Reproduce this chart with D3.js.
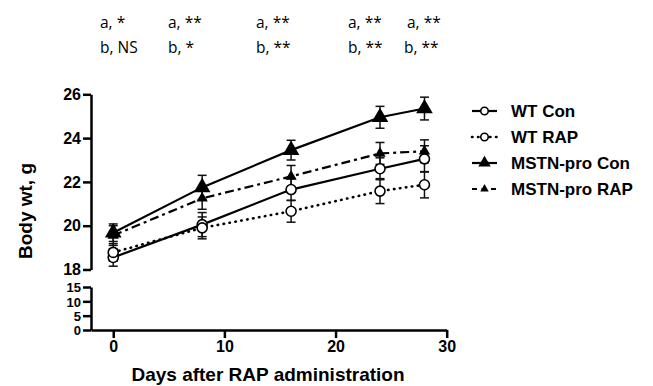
<!DOCTYPE html>
<html><head><meta charset="utf-8">
<script src="https://cdn.jsdelivr.net/npm/d3@7"></script>
<style>body{margin:0;background:#fff}svg{display:block}</style>
</head><body>
<svg id="c" width="653" height="386"></svg>
<script>
const days = [0, 8, 16, 24, 28];
const seriesNames = ["WT Con", "WT RAP", "MSTN-pro Con", "MSTN-pro RAP"];
const wtCon = [18.55, 20.05, 21.65, 22.6, 23.05];
const wtConErr = [0.4, 0.55, 0.5, 0.5, 0.6];
const wtRap = [18.78, 19.9, 20.66, 21.58, 21.87];
const wtRapErr = [0.4, 0.5, 0.5, 0.57, 0.6];
const mstnCon = [19.68, 21.75, 23.45, 24.95, 25.35];
const mstnConErr = [0.4, 0.55, 0.45, 0.5, 0.52];
const mstnRap = [19.55, 21.25, 22.25, 23.3, 23.4];
const mstnRapErr = [0.45, 0.5, 0.5, 0.5, 0.52];
const xTicks = [0, 10, 20, 30];
const yTicksUpper = [18, 20, 22, 24, 26];
const yTicksLower = [0, 5, 10, 15];
const annotLine1 = ["a, *", "a, **", "a, **", "a, **", "a, **"];
const annotLine2 = ["b, NS", "b, *", "b, **", "b, **", "b, **"];
const xTitle = "Days after RAP administration";
const yTitle = "Body wt, g";

const svg = d3.select("#c");
const FONT = "'Liberation Sans', Arial, sans-serif";

const x = d3.scaleLinear().domain([-2, 30]).range([91, 446.7]);
const yU = d3.scaleLinear().domain([18, 26]).range([269.5, 94.3]);
const yL = d3.scaleLinear().domain([0, 15]).range([330, 287]);

function styleAxis(g, fs) {
  g.selectAll("path.domain").attr("stroke", "#000").attr("stroke-width", 2.5);
  g.selectAll(".tick line").attr("stroke", "#000").attr("stroke-width", 2.5);
  g.selectAll(".tick text").attr("font-family", FONT).attr("font-weight", "bold")
    .attr("font-size", fs).attr("fill", "#000");
}

// axes
const gx = svg.append("g").attr("transform", "translate(0,330)")
  .call(d3.axisBottom(x).tickValues(xTicks).tickSize(8).tickSizeOuter(0).tickPadding(3));
styleAxis(gx, 16);
const gyU = svg.append("g").attr("transform", "translate(91,0)")
  .call(d3.axisLeft(yU).tickValues(yTicksUpper).tickSize(8).tickSizeOuter(0).tickPadding(2));
styleAxis(gyU, 16);
const gyL = svg.append("g").attr("transform", "translate(91,0)")
  .call(d3.axisLeft(yL).tickValues(yTicksLower).tickSize(8).tickSizeOuter(0).tickPadding(2));
styleAxis(gyL, 13);
gyL.selectAll(".tick text").attr("dy", "0.36em");

// titles
svg.append("text").attr("x", 268).attr("y", 381).attr("text-anchor", "middle")
  .attr("font-family", FONT).attr("font-weight", "bold").attr("font-size", 19).text(xTitle);
svg.append("text").attr("transform", "translate(32,211) rotate(-90)").attr("text-anchor", "middle")
  .attr("font-family", FONT).attr("font-weight", "bold").attr("font-size", 19).text(yTitle);

// annotations
const annotX = [100, 168, 256, 348, 407];
const annotX2 = [100, 168, 256, 348, 404];
const AFONT = "'Open Sans', 'Noto Sans', sans-serif";
annotLine1.forEach((t, i) => svg.append("text").attr("x", annotX[i]).attr("y", 28)
  .attr("font-family", AFONT).attr("font-size", 15.5).attr("fill", "#000").text(t));
annotLine2.forEach((t, i) => svg.append("text").attr("x", annotX2[i]).attr("y", 53)
  .attr("font-family", AFONT).attr("font-size", 15.5).attr("fill", "#000").text(t));

const DOT = "0.5,5.5";
const series = [
  {name: seriesNames[0], vals: wtCon, err: wtConErr, dash: null, marker: "circle"},
  {name: seriesNames[1], vals: wtRap, err: wtRapErr, dash: DOT, marker: "circle"},
  {name: seriesNames[2], vals: mstnCon, err: mstnConErr, dash: null, marker: "bigtri"},
  {name: seriesNames[3], vals: mstnRap, err: mstnRapErr, dash: "9,4,3,4", marker: "smalltri"}
];

const line = d3.line().x(d => x(d[0])).y(d => yU(d[1]));

// error bars
series.forEach(s => {
  const g = svg.append("g");
  days.forEach((d, i) => {
    const cx = x(d), t = yU(s.vals[i] + s.err[i]), b = yU(s.vals[i] - s.err[i]);
    g.append("line").attr("x1", cx).attr("x2", cx).attr("y1", t).attr("y2", b)
      .attr("stroke", "#111").attr("stroke-width", 1.5);
    [t, b].forEach(yy => g.append("line").attr("x1", cx - 4.5).attr("x2", cx + 4.5)
      .attr("y1", yy).attr("y2", yy).attr("stroke", "#111").attr("stroke-width", 1.5));
  });
});

// lines
series.forEach(s => {
  const dotted = s.dash === DOT;
  svg.append("path").datum(days.map((d, i) => [d, s.vals[i]])).attr("d", line)
    .attr("fill", "none").attr("stroke", "#000").attr("stroke-width", dotted ? 2.6 : 2.2)
    .attr("stroke-dasharray", s.dash).attr("stroke-linecap", dotted ? "round" : "butt");
});

function drawMarker(g, type, cx, cy, scale) {
  if (type === "circle") {
    g.append("circle").attr("cx", cx).attr("cy", cy).attr("r", 5 * scale)
      .attr("fill", "#fff").attr("stroke", "#000").attr("stroke-width", 1.6);
  } else {
    const sz = (type === "bigtri" ? 120 : 55) * scale * scale;
    g.append("path").attr("d", d3.symbol(d3.symbolTriangle, sz)())
      .attr("transform", `translate(${cx},${cy})`).attr("fill", "#000");
  }
}

// markers
series.forEach(s => {
  const g = svg.append("g");
  days.forEach((d, i) => drawMarker(g, s.marker, x(d), yU(s.vals[i]), 1));
});

// legend
const legY = [111, 137, 163, 189];
series.forEach((s, i) => {
  const g = svg.append("g");
  const dotted = s.dash === DOT;
  g.append("line").attr("x1", 472).attr("x2", 497).attr("y1", legY[i]).attr("y2", legY[i])
    .attr("stroke", "#000").attr("stroke-width", dotted ? 2.6 : 2.2)
    .attr("stroke-dasharray", dotted ? DOT : (s.dash ? "5,4.5" : null))
    .attr("stroke-linecap", dotted ? "round" : "butt");
  drawMarker(g, s.marker, 484.5, legY[i], 0.75);
  g.append("text").attr("x", 511).attr("y", legY[i] + 6).attr("font-family", FONT)
    .attr("font-weight", "bold").attr("font-size", 17).text(s.name);
});
</script>
</body></html>
